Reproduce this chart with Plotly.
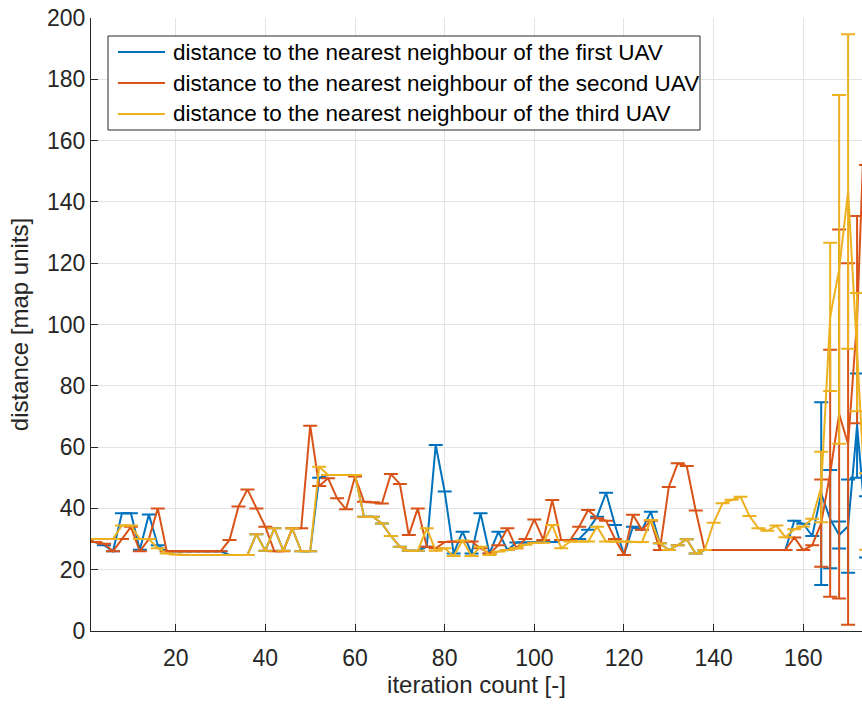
import plotly.graph_objects as go

# iteration count (every second iteration)
iterations = list(range(0, 176, 2))

# distance to nearest neighbour, first UAV
uav1 = [30, 29, 28, 26, 38.4, 38.4, 26.5, 38, 28, 26,
        26, 26, 26, 26, 26, 26, 24.8, 24.8, 24.8, 31.6,
        26.2, 33.5, 26.2, 33.5, 26, 26, 50, 50.9, 50.9, 50.9,
        50.9, 37.3, 37.3, 35.1, 31, 27.5, 26.2, 26.2, 27.5, 60.7,
        45.5, 25.3, 32.4, 25.3, 38.4, 25.3, 32.4, 26.4, 28.9, 28.9,
        29, 29, 29, 29.7, 29.7, 30, 33, 37.3, 45.1, 34.6,
        24.8, 34, 33, 38.9, 28.6, 26.4, 28, 29.9, 25.3, 26.4,
        26.4, 26.4, 26.4, 26.4, 26.4, 26.4, 26.4, 26.4, 26.4, 36,
        35, 31, 44.8, 36.5, 31.3, 34.2, 67, 34]
uav1_err = [0] * 82 + [29.8, 16, 4.4, 15.2, 17, 10]

# distance to nearest neighbour, second UAV
uav2 = [30, 29, 28.5, 26, 30, 34, 26, 30, 40, 26,
        26, 26, 26, 26, 26, 26, 29.7, 40.6, 46.2, 40,
        34, 26, 26, 33.5, 33.5, 67, 47.3, 49.8, 43.3, 39.7,
        50.4, 42.2, 42, 41.6, 51.2, 48, 31.3, 40, 27.5, 27,
        29, 29.2, 29.2, 29.2, 27, 25.3, 28, 33.5, 27, 30,
        36.4, 29.7, 42.7, 29.7, 29.7, 34, 39.5, 36.8, 36, 30,
        24.8, 37.9, 33, 36, 26.4, 47, 54.7, 53.8, 39.3, 26.4,
        26.4, 26.4, 26.4, 26.4, 26.4, 26.4, 26.4, 26.4, 26.4, 30.5,
        26.4, 28, 35.2, 51.5, 70.8, 61, 101.6, 180]
uav2_err = [0] * 82 + [14.2, 40.3, 60.2, 59, 33.8, 28]

# distance to nearest neighbour, third UAV
uav3 = [30, 30, 30, 30, 34.4, 34.4, 30, 30, 27, 25.3,
        25, 24.8, 24.8, 24.8, 24.8, 24.8, 24.8, 24.8, 24.8, 31.6,
        26.2, 33.5, 26.2, 33.5, 26, 26, 53.6, 50.9, 50.9, 50.9,
        50.9, 37.3, 37.3, 35.1, 31, 27.5, 26.2, 26.2, 33.5, 26.2,
        27, 24.5, 29.5, 24.5, 27.5, 24.8, 25.9, 26.4, 27, 28.1,
        28.8, 28.8, 34.6, 27, 29.2, 29.2, 29.2, 34, 29.2, 29.2,
        29.2, 29, 29, 36.2, 28.6, 26.4, 28, 29.9, 25.3, 26.4,
        35.3, 41.7, 42.8, 43.8, 37.5, 33.5, 32.7, 34.4, 30.6, 33.2,
        34.1, 36.6, 47, 102.5, 118, 143.4, 91, 39]
uav3_err = [0] * 82 + [11.5, 24.2, 56.9, 51.3, 19.3, 12.5]

names = ["distance to the nearest neighbour of the first UAV",
         "distance to the nearest neighbour of the second UAV",
         "distance to the nearest neighbour of the third UAV"]
colors = ["#0072BD", "#D95319", "#EDB120"]

x_ticks = [20, 40, 60, 80, 100, 120, 140, 160]
y_ticks = [0, 20, 40, 60, 80, 100, 120, 140, 160, 180, 200]

FONT = "Liberation Sans, Arial, sans-serif"
AX = "#262626"

W, H = 862, 704
ML, MR, MT, MB = 91, 0, 18, 73
PW, PH = W - ML - MR, H - MT - MB


def px_x(p):
    return (p - ML) / PW


def px_y(p):
    return 1 - (p - MT) / PH


fig = go.Figure()
for vals, errs, name, col in zip([uav1, uav2, uav3], [uav1_err, uav2_err, uav3_err], names, colors):
    fig.add_trace(go.Scatter(
        x=iterations, y=vals, name=name, mode="lines", showlegend=False,
        line=dict(color=col, width=2),
        error_y=dict(type="data", array=errs, visible=True, color=col,
                     thickness=2, width=7),
    ))

# legend box drawn in the upper-left corner
shapes = [dict(type="rect", xref="paper", yref="paper",
               x0=px_x(108), x1=px_x(700), y0=px_y(130), y1=px_y(36),
               fillcolor="white", line=dict(color=AX, width=1), layer="above")]
annotations = []
row_y = [52, 83, 114]
for ry, name, col in zip(row_y, names, colors):
    shapes.append(dict(type="line", xref="paper", yref="paper",
                       x0=px_x(118), x1=px_x(165), y0=px_y(ry), y1=px_y(ry),
                       line=dict(color=col, width=2), layer="above"))
    annotations.append(dict(xref="paper", yref="paper", x=px_x(171), y=px_y(ry),
                            xanchor="left", yanchor="middle", showarrow=False,
                            text=name, font=dict(family=FONT, size=22.5, color="#000000")))

fig.update_layout(
    width=W, height=H,
    margin=dict(l=ML, r=MR, t=MT, b=MB),
    paper_bgcolor="white", plot_bgcolor="white",
    font=dict(family=FONT, color=AX, size=23),
    showlegend=False,
    shapes=shapes, annotations=annotations,
    xaxis=dict(
        range=[1.1, 173.1], tickvals=x_ticks, ticktext=[str(v) for v in x_ticks],
        showgrid=True, gridcolor="#e3e3e3", gridwidth=1,
        showline=True, linecolor=AX, linewidth=1,
        ticks="inside", ticklen=7, tickcolor=AX, zeroline=False,
        ticklabelstandoff=6,
        title=dict(text="iteration count [-]", font=dict(family=FONT, size=24, color=AX), standoff=5),
        tickfont=dict(family=FONT, size=23, color=AX),
    ),
    yaxis=dict(
        range=[0, 200], tickvals=y_ticks, ticktext=[str(v) for v in y_ticks],
        showgrid=True, gridcolor="#e3e3e3", gridwidth=1,
        showline=True, linecolor=AX, linewidth=1,
        ticks="inside", ticklen=7, tickcolor=AX, zeroline=False,
        title=dict(text="distance [map units]", font=dict(family=FONT, size=24, color=AX), standoff=11),
        tickfont=dict(family=FONT, size=23, color=AX),
    ),
)

fig.write_html("out.html")
